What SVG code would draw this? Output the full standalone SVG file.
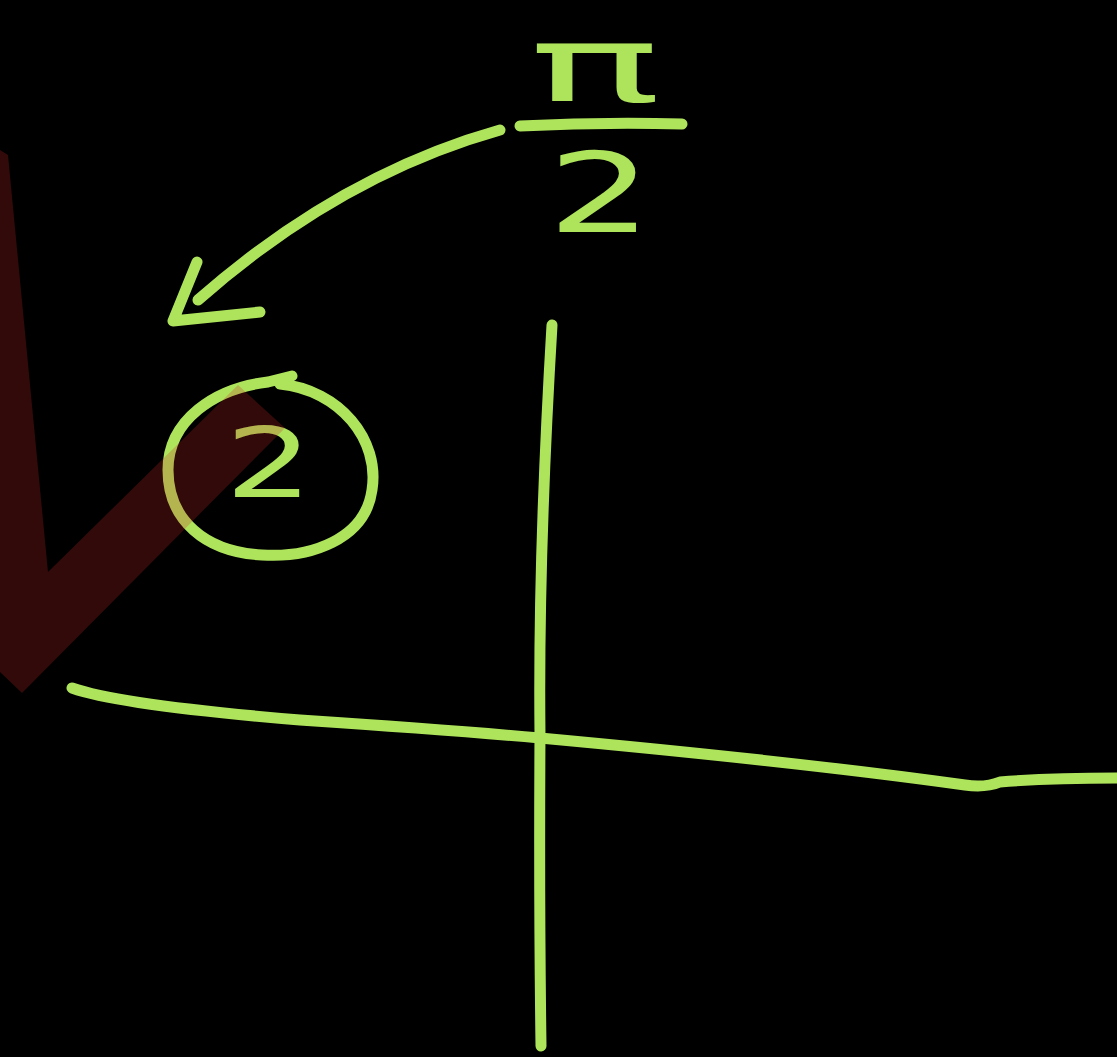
<svg xmlns="http://www.w3.org/2000/svg" width="1117" height="1057" viewBox="0 0 1117 1057">
<style>
.ink{fill:none;stroke:#aee45c;stroke-width:11;stroke-linecap:round;stroke-linejoin:round}
.gl{fill:#aee45c;font-family:"DejaVu Sans",sans-serif;text-anchor:middle}
</style>
<rect width="1117" height="1057" fill="#000"/>
<g id="fraction">
<text class="gl" x="595" y="101" font-size="106" textLength="132" lengthAdjust="spacingAndGlyphs">π</text>
<path class="ink" d="M520 126 Q600 122 682 124"/>
<text class="gl" x="600" y="232" font-size="110" textLength="105" lengthAdjust="spacingAndGlyphs">2</text>
</g>
<g id="connectors">
<path class="ink" d="M500 130 Q340 175 198 300"/>
<path class="ink" d="M197 262 L173 321 L260 312"/>
</g>
<g id="circled2">
<path class="ink" d="M280 384 C340 390 380 440 372 490 C365 540 310 558 262 555 C205 552 168 520 168 470 C168 420 215 388 268 382 L292 376"/>
<text class="gl" x="269" y="497" font-size="96" textLength="88" lengthAdjust="spacingAndGlyphs">2</text>
</g>
<g id="axes">
<path class="ink" d="M552 325 Q538 560 540 735 Q539 900 541 1046"/>
<path class="ink" d="M72 688 Q120 705 300 720 Q450 730 540 738 Q800 762 965 785 Q985 788 1000 782 Q1050 778 1117 778"/>
</g>
<polygon id="check" points="0,150 8,155 48,572 238,385 285,428 22,693 0,672" fill="rgb(200,40,40)" fill-opacity="0.25"/>
</svg>
